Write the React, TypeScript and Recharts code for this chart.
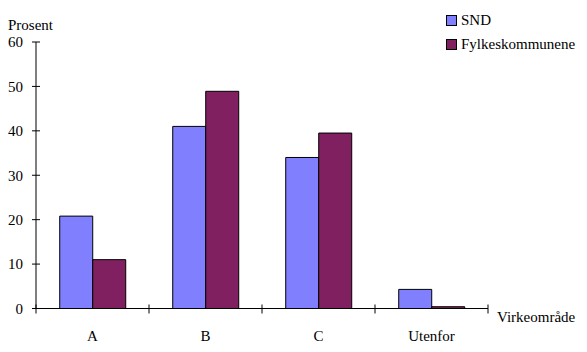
import React from 'react';
import { BarChart, Bar, XAxis, YAxis } from 'recharts';

const categories = ['A', 'B', 'C', 'Utenfor'];
const sndValues = [20.8, 41.0, 34.0, 4.3];
const fylkeValues = [11.0, 48.9, 39.5, 0.4];
const yTicks = [0, 10, 20, 30, 40, 50, 60];
const edgeTicks = [0, 1, 2, 3, 4];

const data = categories.map((name, i) => ({
  name,
  pos: i + 0.5,
  SND: sndValues[i],
  Fylkeskommunene: fylkeValues[i],
}));

const FONT = '"Liberation Serif", "Times New Roman", serif';
const COLORS = { SND: '#8080FF', Fylkeskommunene: '#802060' };

const YTick = (props: any) => {
  const { x, y, payload } = props;
  return (
    <g>
      <line x1={x - 4} x2={x + 4} y1={y} y2={y} stroke="#000" />
      <text x={x - 13} y={y} dy="0.35em" textAnchor="end" fontFamily={FONT} fontSize={15} fill="#000">
        {payload.value}
      </text>
    </g>
  );
};

const EdgeTick = (props: any) => {
  const { x, y } = props;
  return <line x1={x} x2={x} y1={y - 4} y2={y + 5} stroke="#000" />;
};

const CatTick = (props: any) => {
  const { x, y, payload } = props;
  return (
    <text x={x} y={y} dy="0.35em" textAnchor="middle" fontFamily={FONT} fontSize={15} fill="#000">
      {payload.value}
    </text>
  );
};

const LegendBox = () => (
  <div style={{ position: 'absolute', left: 446, top: 8, fontFamily: FONT, fontSize: 15, color: '#000' }}>
    {(['SND', 'Fylkeskommunene'] as const).map((k) => (
      <div key={k} style={{ display: 'flex', alignItems: 'center', height: 24 }}>
        <span
          style={{
            display: 'inline-block',
            width: 9,
            height: 9,
            background: COLORS[k],
            border: '1px solid #000',
            marginRight: 4,
          }}
        />
        {k}
      </div>
    ))}
  </div>
);

export default function App() {
  return (
    <div style={{ position: 'absolute', left: 0, top: 0, width: 587, height: 352, background: '#fff' }}>
      <BarChart
        width={587}
        height={352}
        data={data}
        margin={{ top: 42, right: 99, bottom: 0, left: 0 }}
        barCategoryGap="21%"
        barGap={0}
      >
        <XAxis
          xAxisId="z"
          dataKey="name"
          height={42.5}
          axisLine={false}
          tickLine={false}
          tickSize={0}
          tickMargin={26}
          tick={<CatTick />}
        />
        <XAxis
          xAxisId="a"
          type="number"
          dataKey="pos"
          domain={[0, 4]}
          ticks={edgeTicks}
          interval={0}
          allowDataOverflow
          height={1}
          axisLine={{ stroke: '#000' }}
          tickLine={false}
          tickSize={0}
          tickMargin={0}
          tick={<EdgeTick />}
        />
        <YAxis
          width={36}
          domain={[0, 60]}
          ticks={yTicks}
          axisLine={{ stroke: '#000' }}
          tickLine={false}
          tickSize={0}
          tickMargin={0}
          tick={<YTick />}
        />
        <Bar xAxisId="z" dataKey="SND" fill={COLORS.SND} stroke="#000" strokeWidth={1} isAnimationActive={false} />
        <Bar
          xAxisId="z"
          dataKey="Fylkeskommunene"
          fill={COLORS.Fylkeskommunene}
          stroke="#000"
          strokeWidth={1}
          isAnimationActive={false}
        />
      </BarChart>
      <LegendBox />
      <div style={{ position: 'absolute', left: 8, top: 17, fontFamily: FONT, fontSize: 15, color: '#000' }}>Prosent</div>
      <div style={{ position: 'absolute', left: 497, top: 309, fontFamily: FONT, fontSize: 15, color: '#000' }}>
        Virkeområde
      </div>
    </div>
  );
}
